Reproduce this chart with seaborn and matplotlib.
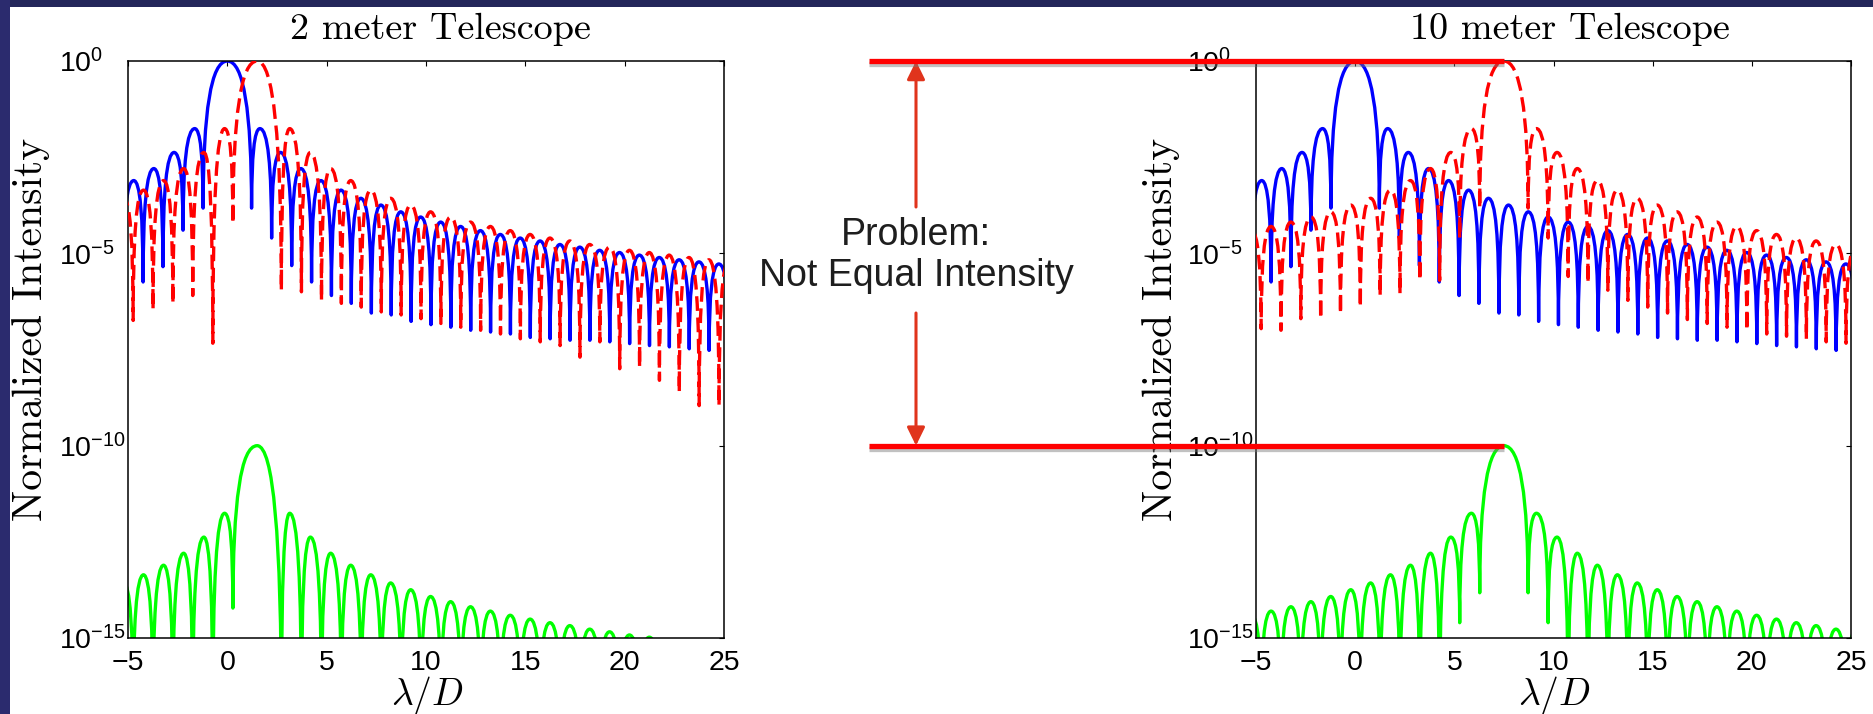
import matplotlib
matplotlib.use("Agg")
import matplotlib.pyplot as plt
import seaborn as sns
from matplotlib.path import Path
from matplotlib.patches import PathPatch, Rectangle
from matplotlib.ticker import NullLocator
import matplotlib.patheffects as pe

# ---------------- data ----------------
panel_titles = ["2 meter Telescope", "10 meter Telescope"]
x_ticks = [-5, 0, 5, 10, 15, 20, 25]
x_tick_labels = ["\u22125", "0", "5", "10", "15", "20", "25"]
y_ticks = [1e-15, 1e-10, 1e-5, 1e0]
y_tick_labels = [r"$10^{-15}$", r"$10^{-10}$", r"$10^{-5}$", r"$10^{0}$"]

# star (blue, centred on 0): alternating null / lobe-peak turning points
blue_x = [-5.24, -4.71, -4.24, -3.70, -3.24, -2.68, -2.23, -1.64, -1.22, 0.00,
          1.22, 1.64, 2.23, 2.68, 3.24, 3.70, 4.24, 4.71, 5.24, 5.72,
          6.24, 6.72, 7.25, 7.73, 8.25, 8.73, 9.25, 9.73, 10.25, 10.74,
          11.25, 11.74, 12.25, 12.74, 13.25, 13.74, 14.25, 14.74, 15.25, 15.74,
          16.25, 16.74, 17.25, 17.74, 18.25, 18.74, 19.25, 19.74, 20.25, 20.74,
          21.25, 21.74, 22.25, 22.74, 23.25, 23.74, 24.25, 24.74, 25.25]
blue_y = [2e-6, 7.8e-4, 1.8e-6, 1.6e-3, 4.5e-6, 4.2e-3, 4.0e-5, 1.75e-2, 1.5e-4, 1.0,
          1.5e-4, 1.75e-2, 2.5e-5, 4.2e-3, 4.8e-6, 1.6e-3, 1.8e-6, 7.8e-4, 8e-7, 4.4e-4,
          5e-7, 2.7e-4, 2.8e-7, 1.8e-4, 2.5e-7, 1.2e-4, 1.7e-7, 8.8e-5, 1.4e-7, 6.5e-5,
          1.2e-7, 5.0e-5, 1.0e-7, 3.9e-5, 9e-8, 3.1e-5, 8e-8, 2.5e-5, 6.5e-8, 2.1e-5,
          6e-8, 1.7e-5, 5.5e-8, 1.45e-5, 5.5e-8, 1.2e-5, 5e-8, 1.05e-5, 4.5e-8, 9.0e-6,
          4e-8, 7.8e-6, 3.7e-8, 6.8e-6, 3.3e-8, 6.0e-6, 3e-8, 5.3e-6, 3e-8]

# 2 m telescope: companion at 1.5 lambda/D
left_x = [-5.74, -5.22, -4.74, -4.22, -3.74, -3.21, -2.74, -2.20, -1.74, -1.18,
          -0.73, -0.14, 0.28, 1.50, 2.72, 3.14, 3.73, 4.18, 4.74, 5.20,
          5.74, 6.21, 6.74, 7.22, 7.75, 8.22, 8.75, 9.23, 9.75, 10.23,
          10.75, 11.24, 11.75, 12.24, 12.75, 13.24, 13.75, 14.24, 14.75, 15.24,
          15.75, 16.24, 16.75, 17.24, 17.75, 18.24, 18.75, 19.24, 19.75, 20.24,
          20.75, 21.24, 21.75, 22.24, 22.75, 23.24, 23.75, 24.24, 24.75, 25.24, 25.75]
left_red_y = [1e-7, 2.7e-4, 1.8e-7, 4.4e-4, 3.5e-7, 7.8e-4, 5e-7, 1.6e-3, 8e-7, 4.2e-3,
              4.6e-8, 1.75e-2, 6e-5, 1.0, 1.1e-6, 1.75e-2, 1.0e-6, 4.2e-3, 6e-7, 1.6e-3,
              5e-7, 7.8e-4, 4e-7, 4.4e-4, 3e-7, 2.7e-4, 2.5e-7, 1.8e-4, 2e-7, 1.2e-4,
              1.5e-7, 8.8e-5, 1.2e-7, 6.5e-5, 1e-7, 5.0e-5, 8e-8, 3.9e-5, 6e-8, 3.1e-5,
              5e-8, 2.5e-5, 4e-8, 2.1e-5, 2e-8, 1.7e-5, 5e-8, 1.45e-5, 1e-8, 1.2e-5,
              1.1e-8, 1.05e-5, 5e-9, 9.0e-6, 2.5e-9, 7.8e-6, 1.1e-9, 6.8e-6, 1.1e-9, 6.0e-6, 1e-9]
left_green_y = [1e-17, 2.7e-14, 1e-17, 4.4e-14, 1e-17, 7.8e-14, 1e-17, 1.6e-13, 1e-17, 4.2e-13,
                1e-17, 1.75e-12, 6e-15, 1e-10, 1e-17, 1.75e-12, 1e-17, 4.2e-13, 1e-17, 1.6e-13,
                1e-17, 7.8e-14, 1e-17, 4.4e-14, 1e-17, 2.7e-14, 1e-17, 1.8e-14, 1e-17, 1.2e-14,
                1e-17, 8.8e-15, 1e-17, 6.5e-15, 1e-17, 5.0e-15, 1e-17, 3.9e-15, 1e-17, 3.1e-15,
                1e-17, 2.5e-15, 1e-17, 2.1e-15, 1e-17, 1.7e-15, 1e-17, 1.45e-15, 1e-17, 1.2e-15,
                1e-17, 1.05e-15, 1e-17, 9e-16, 1e-17, 7.8e-16, 1e-17, 6.8e-16, 1e-17, 6e-16, 1e-17]

# 10 m telescope: companion at 7.5 lambda/D
right_x = [-5.74, -5.24, -4.74, -4.24, -3.74, -3.24, -2.74, -2.23, -1.74, -1.23,
           -0.74, -0.22, 0.26, 0.78, 1.26, 1.78, 2.26, 2.79, 3.26, 3.80,
           4.26, 4.82, 5.27, 5.86, 6.28, 7.50, 8.72, 9.14, 9.73, 10.18,
           10.74, 11.20, 11.74, 12.21, 12.74, 13.22, 13.75, 14.22, 14.75, 15.23,
           15.75, 16.23, 16.75, 17.24, 17.75, 18.24, 18.75, 19.24, 19.75, 20.24,
           20.75, 21.24, 21.75, 22.24, 22.75, 23.24, 23.75, 24.24, 24.75, 25.24, 25.75]
right_red_y = [1e-7, 3.9e-5, 1.1e-7, 5.0e-5, 1e-7, 6.5e-5, 2e-7, 8.8e-5, 2e-7, 1.2e-4,
               2.7e-7, 1.8e-4, 4e-7, 2.7e-4, 8e-7, 4.4e-4, 9e-7, 7.8e-4, 2e-6, 1.6e-3,
               2e-6, 4.2e-3, 2.5e-5, 1.75e-2, 1.5e-4, 1.0, 1.5e-4, 1.75e-2, 2.5e-5, 4.2e-3,
               2.5e-6, 1.6e-3, 1.7e-6, 7.8e-4, 1.1e-6, 4.4e-4, 6e-7, 2.7e-4, 4e-7, 1.8e-4,
               2.8e-7, 1.2e-4, 1.9e-7, 8.8e-5, 1.5e-7, 6.5e-5, 1.2e-7, 5.0e-5, 1e-7, 3.9e-5,
               8e-8, 3.1e-5, 7e-8, 2.5e-5, 6e-8, 2.1e-5, 5e-8, 1.7e-5, 4.6e-8, 1.45e-5, 4e-8]
right_green_y = [1e-17, 3.9e-15, 1e-17, 5.0e-15, 1e-17, 6.5e-15, 1e-17, 8.8e-15, 1e-17, 1.2e-14,
                 1e-17, 1.8e-14, 1e-17, 2.7e-14, 1e-17, 4.4e-14, 1e-17, 7.8e-14, 1e-17, 1.6e-13,
                 1e-17, 4.2e-13, 2.5e-15, 1.75e-12, 1.5e-14, 1e-10, 1.5e-14, 1.75e-12, 2.5e-15, 4.2e-13,
                 1e-17, 1.6e-13, 1e-17, 7.8e-14, 1e-17, 4.4e-14, 1e-17, 2.7e-14, 1e-17, 1.8e-14,
                 1e-17, 1.2e-14, 1e-17, 8.8e-15, 1e-17, 6.5e-15, 1e-17, 5.0e-15, 1e-17, 3.9e-15,
                 1e-17, 3.1e-15, 1e-17, 2.5e-15, 1e-17, 2.1e-15, 1e-17, 1.7e-15, 1e-17, 1.45e-15, 1e-17]

planet_x_right = 7.5
bar_levels = [1e0, 1e-10]          # star peak and planet peak
annotation_text = "Problem:\nNot Equal Intensity"

# ---------------- style ----------------
sns.set_theme(style="white")
plt.rcParams["font.family"] = ["Liberation Sans", "DejaVu Sans"]
plt.rcParams["mathtext.fontset"] = "custom"
plt.rcParams["mathtext.rm"] = "Liberation Sans"
plt.rcParams["mathtext.it"] = "Liberation Sans:italic"
plt.rcParams["mathtext.bf"] = "Liberation Sans:bold"
plt.rcParams["axes.unicode_minus"] = True

W, H = 1873, 714
fig = plt.figure(figsize=(W / 100, H / 100), dpi=100, facecolor="white")
# dark slide border (top and left)
fig.add_artist(Rectangle((0, (H - 7) / H), 1, 7 / H, transform=fig.transFigure,
                         facecolor="#23265a", edgecolor="none", zorder=-5))
fig.add_artist(Rectangle((0, 0), 10 / W, 1, transform=fig.transFigure,
                         facecolor="#2b2b6e", edgecolor="none", zorder=-5))

ax_bottom = (H - 638) / H
ax_height = 577 / H
axL = fig.add_axes([128 / W, ax_bottom, 596 / W, ax_height])
axR = fig.add_axes([1256 / W, ax_bottom, 595 / W, ax_height])

X_LIM = (-5, 25)
Y_LIM = (1e-15, 1e0)


def lobe_path(xs, ys):
    """Quadratic Bezier arcs between alternating null / peak turning points."""
    verts = [(xs[0], ys[0])]
    codes = [Path.MOVETO]
    for i in range(len(xs) - 1):
        if i % 2 == 0:      # null -> peak
            ctrl = (xs[i], ys[i + 1])
        else:               # peak -> null
            ctrl = (xs[i + 1], ys[i])
        verts += [ctrl, (xs[i + 1], ys[i + 1])]
        codes += [Path.CURVE3, Path.CURVE3]
    return Path(verts, codes)


def draw_curve(ax, xs, ys, color, ls="-", z=2):
    patch = PathPatch(lobe_path(xs, ys), facecolor="none", edgecolor=color,
                      linewidth=2.4, linestyle=ls, zorder=z, capstyle="butt",
                      joinstyle="round")
    ax.add_patch(patch)


def style_axes(ax, title, title_x, ylabel_x):
    ax.set_yscale("log")
    ax.set_xlim(*X_LIM)
    ax.set_ylim(*Y_LIM)
    ax.set_xticks(x_ticks)
    ax.set_xticklabels(x_tick_labels)
    ax.set_yticks(y_ticks)
    ax.set_yticklabels(y_tick_labels, ha="left")
    ax.yaxis.set_minor_locator(NullLocator())
    ax.xaxis.set_minor_locator(NullLocator())
    ax.tick_params(axis="both", which="major", direction="in", top=True, right=True,
                   length=3.8, width=0.8, color="black", labelsize=20.5,
                   labelcolor="black")
    ax.tick_params(axis="x", pad=9)
    ax.tick_params(axis="y", pad=50)
    for s in ax.spines.values():
        s.set_visible(True)
        s.set_color("black")
        s.set_linewidth(1.1)
    ax.set_facecolor("white")
    ax.set_title(title, fontfamily="cmr10", fontsize=27.5, x=title_x, pad=16,
                 color="black")
    ax.set_ylabel("Normalized Intensity", fontfamily="cmr10", fontsize=30,
                  color="black", va="center")
    ax.yaxis.set_label_coords(ylabel_x, 0.534)
    ax.set_xlabel(r"$\lambda/D$", math_fontfamily="cm", fontsize=27,
                  color="black", va="center")
    ax.xaxis.set_label_coords(0.502, -0.100)


style_axes(axL, panel_titles[0], 0.525, -0.162)
style_axes(axR, panel_titles[1], 0.528, -0.160)

# curves
draw_curve(axL, blue_x, blue_y, "#0000ff", "-", 2)
draw_curve(axL, left_x, left_red_y, "#ff0000", (0, (4.4, 2.0)), 3)
draw_curve(axL, left_x, left_green_y, "#00ff00", "-", 2)

draw_curve(axR, blue_x, blue_y, "#0000ff", "-", 2)
draw_curve(axR, right_x, right_red_y, "#ff0000", (0, (4.4, 2.0)), 3)
draw_curve(axR, right_x, right_green_y, "#00ff00", "-", 2)

# ---------------- annotation: intensity bars + arrow ----------------
bar_start = X_LIM[0] + (-0.65) * (X_LIM[1] - X_LIM[0])
for level in bar_levels:
    sns.lineplot(x=[bar_start, planet_x_right], y=[level, level], ax=axR,
                 color="#ff0000", linewidth=3.8, estimator=None, sort=False)
    line = axR.lines[-1]
    line.set_clip_on(False)
    line.set_zorder(6)
    line.set_solid_capstyle("butt")
    line.set_path_effects([pe.SimpleLineShadow(offset=(0, -2.2), shadow_color="#777777",
                                               alpha=0.45),
                           pe.Normal()])
axR.set_xlim(*X_LIM)
axR.set_ylim(*Y_LIM)

arrow_fx = (916 - 1256) / 595
arrow_props = dict(arrowstyle="-|>,head_length=0.55,head_width=0.27",
                   color="#e0341c", lw=2.2, mutation_scale=20,
                   shrinkA=0, shrinkB=0)
axR.annotate("", xy=(arrow_fx, bar_levels[0]), xycoords=("axes fraction", "data"),
             xytext=(arrow_fx, (638 - 207) / 577), textcoords="axes fraction",
             arrowprops=arrow_props, annotation_clip=False, zorder=5)
axR.annotate("", xy=(arrow_fx, bar_levels[1]), xycoords=("axes fraction", "data"),
             xytext=(arrow_fx, (638 - 313) / 577), textcoords="axes fraction",
             arrowprops=arrow_props, annotation_clip=False, zorder=5)
axR.text(arrow_fx, (638 - 255.5) / 577, annotation_text, transform=axR.transAxes,
         ha="center", va="center", fontsize=27, linespacing=1.2, color="#1e1e1e",
         multialignment="center", clip_on=False)

fig.savefig("out.png", dpi=100, facecolor=fig.get_facecolor())
